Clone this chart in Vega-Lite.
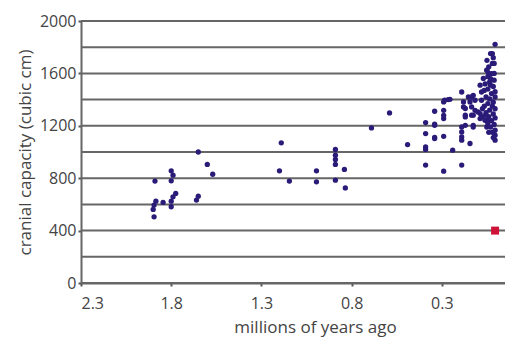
{
  "$schema": "https://vega.github.io/schema/vega-lite/v6.json",
  "width": 424,
  "height": 262,
  "autosize": {"type": "none"},
  "padding": {"left": 81, "top": 21, "right": 0, "bottom": 57},
  "background": "white",
  "config": {
    "view": {"stroke": null},
    "font": "Open Sans",
    "axis": {"labelFont": "Open Sans", "titleFont": "Open Sans", "labelColor": "#444", "titleColor": "#444", "titleFontWeight": "normal", "labelFontSize": 16, "titleFontSize": 17}
  },
  "datasets": {
    "grid": [
      {"cc": 0}, {"cc": 200}, {"cc": 400}, {"cc": 600}, {"cc": 800}, {"cc": 1000},
      {"cc": 1200}, {"cc": 1400}, {"cc": 1600}, {"cc": 1800}, {"cc": 2000}
    ],
    "fossils": [
      {"mya": 1.65, "cc": 1000}, {"mya": 1.60, "cc": 905}, {"mya": 1.57, "cc": 830},
      {"mya": 1.80, "cc": 856}, {"mya": 1.79, "cc": 823}, {"mya": 1.80, "cc": 780},
      {"mya": 1.89, "cc": 778}, {"mya": 1.775, "cc": 684}, {"mya": 1.79, "cc": 658},
      {"mya": 1.80, "cc": 625}, {"mya": 1.845, "cc": 615}, {"mya": 1.885, "cc": 625},
      {"mya": 1.895, "cc": 595}, {"mya": 1.90, "cc": 562}, {"mya": 1.895, "cc": 505},
      {"mya": 1.65, "cc": 663}, {"mya": 1.66, "cc": 633}, {"mya": 1.80, "cc": 582},
      {"mya": 1.19, "cc": 1070}, {"mya": 1.20, "cc": 856}, {"mya": 1.145, "cc": 778},
      {"mya": 0.995, "cc": 856}, {"mya": 0.995, "cc": 772}, {"mya": 0.89, "cc": 1019},
      {"mya": 0.89, "cc": 976}, {"mya": 0.89, "cc": 943}, {"mya": 0.89, "cc": 905},
      {"mya": 0.89, "cc": 785}, {"mya": 0.84, "cc": 867}, {"mya": 0.835, "cc": 726},
      {"mya": 0.59, "cc": 1298}, {"mya": 0.69, "cc": 1184}, {"mya": 0.49, "cc": 1057},
      {"mya": 0.39, "cc": 1225}, {"mya": 0.39, "cc": 1141}, {"mya": 0.39, "cc": 1039},
      {"mya": 0.39, "cc": 1020}, {"mya": 0.39, "cc": 900}, {"mya": 0.34, "cc": 1311},
      {"mya": 0.34, "cc": 1212}, {"mya": 0.34, "cc": 1103}, {"mya": 0.34, "cc": 1204},
      {"mya": 0.34, "cc": 1111}, {"mya": 0.29, "cc": 1318}, {"mya": 0.29, "cc": 1280},
      {"mya": 0.29, "cc": 1255}, {"mya": 0.29, "cc": 1120}, {"mya": 0.29, "cc": 854},
      {"mya": 0.29, "cc": 1382}, {"mya": 0.285, "cc": 1395}, {"mya": 0.265, "cc": 1400},
      {"mya": 0.255, "cc": 1402}, {"mya": 0.24, "cc": 1014},
      {"mya": 0.19, "cc": 1458}, {"mya": 0.19, "cc": 1191}, {"mya": 0.19, "cc": 1153},
      {"mya": 0.19, "cc": 1115}, {"mya": 0.19, "cc": 1090}, {"mya": 0.19, "cc": 900},
      {"mya": 0.18, "cc": 1382}, {"mya": 0.18, "cc": 1344}, {"mya": 0.17, "cc": 1332},
      {"mya": 0.17, "cc": 1281}, {"mya": 0.17, "cc": 1268}, {"mya": 0.17, "cc": 1204},
      {"mya": 0.153, "cc": 1420}, {"mya": 0.144, "cc": 1382}, {"mya": 0.144, "cc": 1065},
      {"mya": 0.135, "cc": 1420}, {"mya": 0.135, "cc": 1344}, {"mya": 0.135, "cc": 1281},
      {"mya": 0.126, "cc": 1433}, {"mya": 0.126, "cc": 1281}, {"mya": 0.126, "cc": 1204},
      {"mya": 0.126, "cc": 1191}, {"mya": 0.116, "cc": 1395}, {"mya": 0.116, "cc": 1318},
      {"mya": 0.10, "cc": 1306}, {"mya": 0.088, "cc": 1293}, {"mya": 0.088, "cc": 1255},
      {"mya": 0.088, "cc": 1510}, {"mya": 0.08, "cc": 1395}, {"mya": 0.079, "cc": 1268},
      {"mya": 0.07, "cc": 1561}, {"mya": 0.061, "cc": 1242}, {"mya": 0.051, "cc": 1624},
      {"mya": 0.051, "cc": 1191}, {"mya": 0.051, "cc": 1242},
      {"mya": 0.005, "cc": 1822}, {"mya": 0.02, "cc": 1751}, {"mya": 0.03, "cc": 1751},
      {"mya": 0.02, "cc": 1676}, {"mya": 0.01, "cc": 1676}, {"mya": 0.04, "cc": 1650},
      {"mya": 0.05, "cc": 1624}, {"mya": 0.025, "cc": 1599}, {"mya": 0.01, "cc": 1600},
      {"mya": 0.045, "cc": 1575}, {"mya": 0.035, "cc": 1535}, {"mya": 0.01, "cc": 1548},
      {"mya": 0.06, "cc": 1520}, {"mya": 0.03, "cc": 1510}, {"mya": 0.015, "cc": 1500},
      {"mya": 0.065, "cc": 1470}, {"mya": 0.045, "cc": 1480}, {"mya": 0.08, "cc": 1458},
      {"mya": 0.025, "cc": 1446}, {"mya": 0.005, "cc": 1460}, {"mya": 0.055, "cc": 1420},
      {"mya": 0.005, "cc": 1420}, {"mya": 0.035, "cc": 1405}, {"mya": 0.015, "cc": 1380},
      {"mya": 0.045, "cc": 1370}, {"mya": 0.065, "cc": 1350}, {"mya": 0.02, "cc": 1350},
      {"mya": 0.005, "cc": 1330}, {"mya": 0.035, "cc": 1320}, {"mya": 0.055, "cc": 1300},
      {"mya": 0.015, "cc": 1290}, {"mya": 0.04, "cc": 1270}, {"mya": 0.005, "cc": 1260},
      {"mya": 0.025, "cc": 1240}, {"mya": 0.045, "cc": 1220}, {"mya": 0.01, "cc": 1210},
      {"mya": 0.03, "cc": 1190}, {"mya": 0.005, "cc": 1166}, {"mya": 0.02, "cc": 1150},
      {"mya": 0.005, "cc": 1128}, {"mya": 0.005, "cc": 1090}, {"mya": 0.04, "cc": 1150},
      {"mya": 0.015, "cc": 1110}, {"mya": 0.06, "cc": 1280}, {"mya": 0.075, "cc": 1330},
      {"mya": 0.03, "cc": 1560}, {"mya": 0.05, "cc": 1700}, {"mya": 0.015, "cc": 1720},
      {"mya": 0.04, "cc": 1600}
    ],
    "flores": [{"mya": 0.005, "cc": 400}]
  },
  "layer": [
    {
      "data": {"name": "grid"},
      "mark": {"type": "rule", "color": "#666", "strokeWidth": 2},
      "encoding": {
        "y": {"field": "cc", "type": "quantitative"}
      }
    },
    {
      "data": {"name": "fossils"},
      "mark": {"type": "circle", "size": 28, "opacity": 1, "color": "#2a1b78"},
      "encoding": {
        "x": {
          "field": "mya", "type": "quantitative",
          "scale": {"domain": [-0.05, 2.3], "reverse": true, "nice": false, "zero": false},
          "axis": {
            "values": [2.3, 1.8, 1.3, 0.8, 0.3], "format": ".1f", "grid": false,
            "domain": true, "domainColor": "#666", "domainWidth": 2,
            "tickColor": "#555", "tickSize": 3, "tickWidth": 2, "labelPadding": 9,
            "title": "millions of years ago", "titleX": 234, "titleY": 36, "titleBaseline": "top", "titleAlign": "center"
          }
        },
        "y": {
          "field": "cc", "type": "quantitative",
          "scale": {"domain": [0, 2000], "nice": false},
          "axis": {
            "values": [0, 400, 800, 1200, 1600, 2000],
            "format": "d",
            "grid": false,
            "domain": true, "domainColor": "#666", "domainWidth": 2,
            "tickColor": "#555", "tickSize": 3, "tickWidth": 2, "labelPadding": 2,
            "title": "cranial capacity (cubic cm)", "titleX": -56, "titleBaseline": "middle"
          }
        }
      }
    },
    {
      "data": {"name": "flores"},
      "mark": {"type": "square", "size": 64, "opacity": 1, "color": "#cf1238"},
      "encoding": {
        "x": {"field": "mya", "type": "quantitative"},
        "y": {"field": "cc", "type": "quantitative"}
      }
    }
  ]
}
